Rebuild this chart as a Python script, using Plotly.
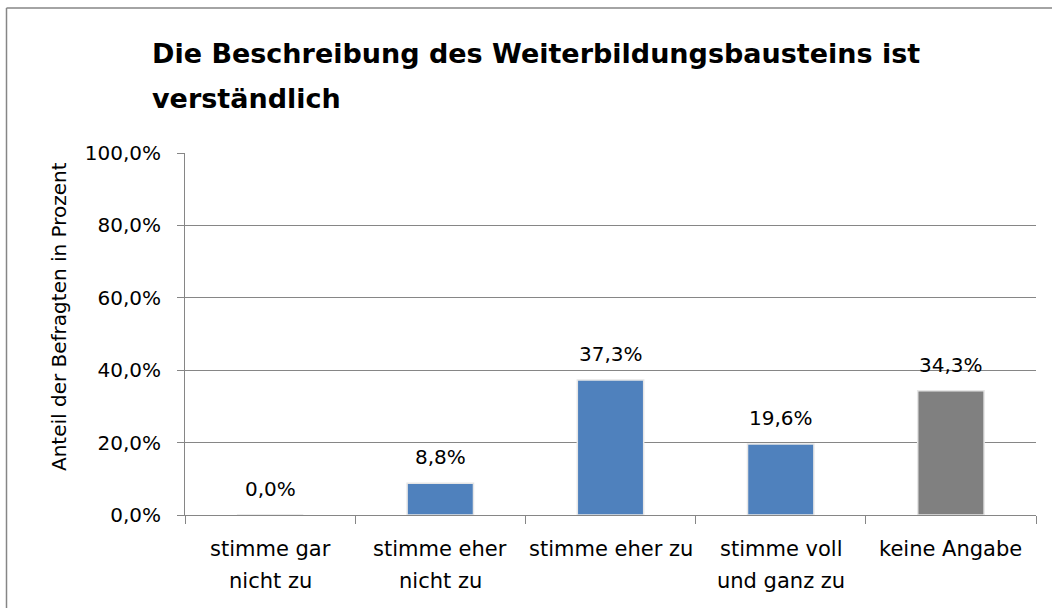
import plotly.graph_objects as go

categories = ["stimme gar<br>nicht zu", "stimme eher<br>nicht zu", "stimme eher zu",
              "stimme voll<br>und ganz zu", "keine Angabe"]
values = [0.0, 8.8, 37.3, 19.6, 34.3]
labels = ["0,0%", "8,8%", "37,3%", "19,6%", "34,3%"]
colors = ["#4F81BD", "#4F81BD", "#4F81BD", "#4F81BD", "#808080"]
tick_vals = [0, 20, 40, 60, 80, 100]
tick_text = ["0,0%", "20,0%", "40,0%", "60,0%", "80,0%", "100,0%"]
title_lines = ["<b>Die Beschreibung des Weiterbildungsbausteins ist</b>", "<b>verständlich</b>"]
y_title = "Anteil der Befragten in Prozent"

W, H = 1052, 608
L, R, T, B = 185, 16, 153, 93
pw, ph = W - L - R, H - T - B
FONT = "DejaVu Sans"


def px_x(px):
    return (px - L) / pw


def px_y(py):
    return (H - B - py) / ph


fig = go.Figure()
fig.add_trace(go.Bar(
    x=categories, y=values,
    marker=dict(color=colors, line=dict(color="#E6E6E6", width=1.5)),
    width=0.39, hoverinfo="skip",
))

annotations = []
for c, v, t in zip(categories, values, labels):
    annotations.append(dict(x=c, y=v, text=t, showarrow=False, xref="x", yref="y",
                            yanchor="bottom", yshift=12,
                            font=dict(family=FONT, size=20, color="#000000")))
# category labels, line by line
for c in categories:
    for i, part in enumerate(c.split("<br>")):
        annotations.append(dict(x=c, y=px_y(549 + 32 * i), xref="x", yref="paper",
                                yanchor="middle", showarrow=False, text=part,
                                font=dict(family=FONT, size=21, color="#000000")))
for line, yc in zip(title_lines, [53.5, 98.5]):
    annotations.append(dict(
        x=px_x(150), y=px_y(yc), xref="paper", yref="paper",
        xanchor="left", yanchor="middle", align="left", showarrow=False,
        text=line, font=dict(family=FONT, size=27, color="#000000")))
annotations.append(dict(
    x=px_x(59), y=px_y(317), xref="paper", yref="paper", textangle=-90,
    xanchor="center", yanchor="middle", showarrow=False, text=y_title,
    font=dict(family=FONT, size=20, color="#000000")))

fig.update_layout(
    width=W, height=H,
    margin=dict(l=L, r=R, t=T, b=B),
    paper_bgcolor="white", plot_bgcolor="white",
    showlegend=False,
    annotations=annotations,
    shapes=[
        dict(type="line", xref="paper", yref="paper",
             x0=px_x(6.5), x1=px_x(6.5), y0=px_y(8), y1=px_y(620),
             line=dict(color="#868686", width=1.5)),
        dict(type="line", xref="paper", yref="paper",
             x0=px_x(6.5), x1=px_x(1060), y0=px_y(8), y1=px_y(8),
             line=dict(color="#868686", width=1.5)),
    ],
    xaxis=dict(
        showline=True, linecolor="#868686", linewidth=1,
        ticks="outside", tickson="boundaries", ticklen=8, tickcolor="#868686",
        showgrid=False, showticklabels=False,
    ),
    yaxis=dict(
        range=[0, 100], tickvals=tick_vals, ticktext=tick_text,
        showline=True, linecolor="#868686", linewidth=1,
        ticks="outside", ticklen=7, tickcolor="#868686", ticklabelstandoff=12,
        showgrid=True, gridcolor="#868686", gridwidth=1,
        zeroline=False,
        tickfont=dict(family=FONT, size=20, color="#000000"),
    ),
)
fig.write_html("out.html", config={"displayModeBar": False},
               post_script="document.body.style.margin='0';document.body.style.overflow='hidden';")
